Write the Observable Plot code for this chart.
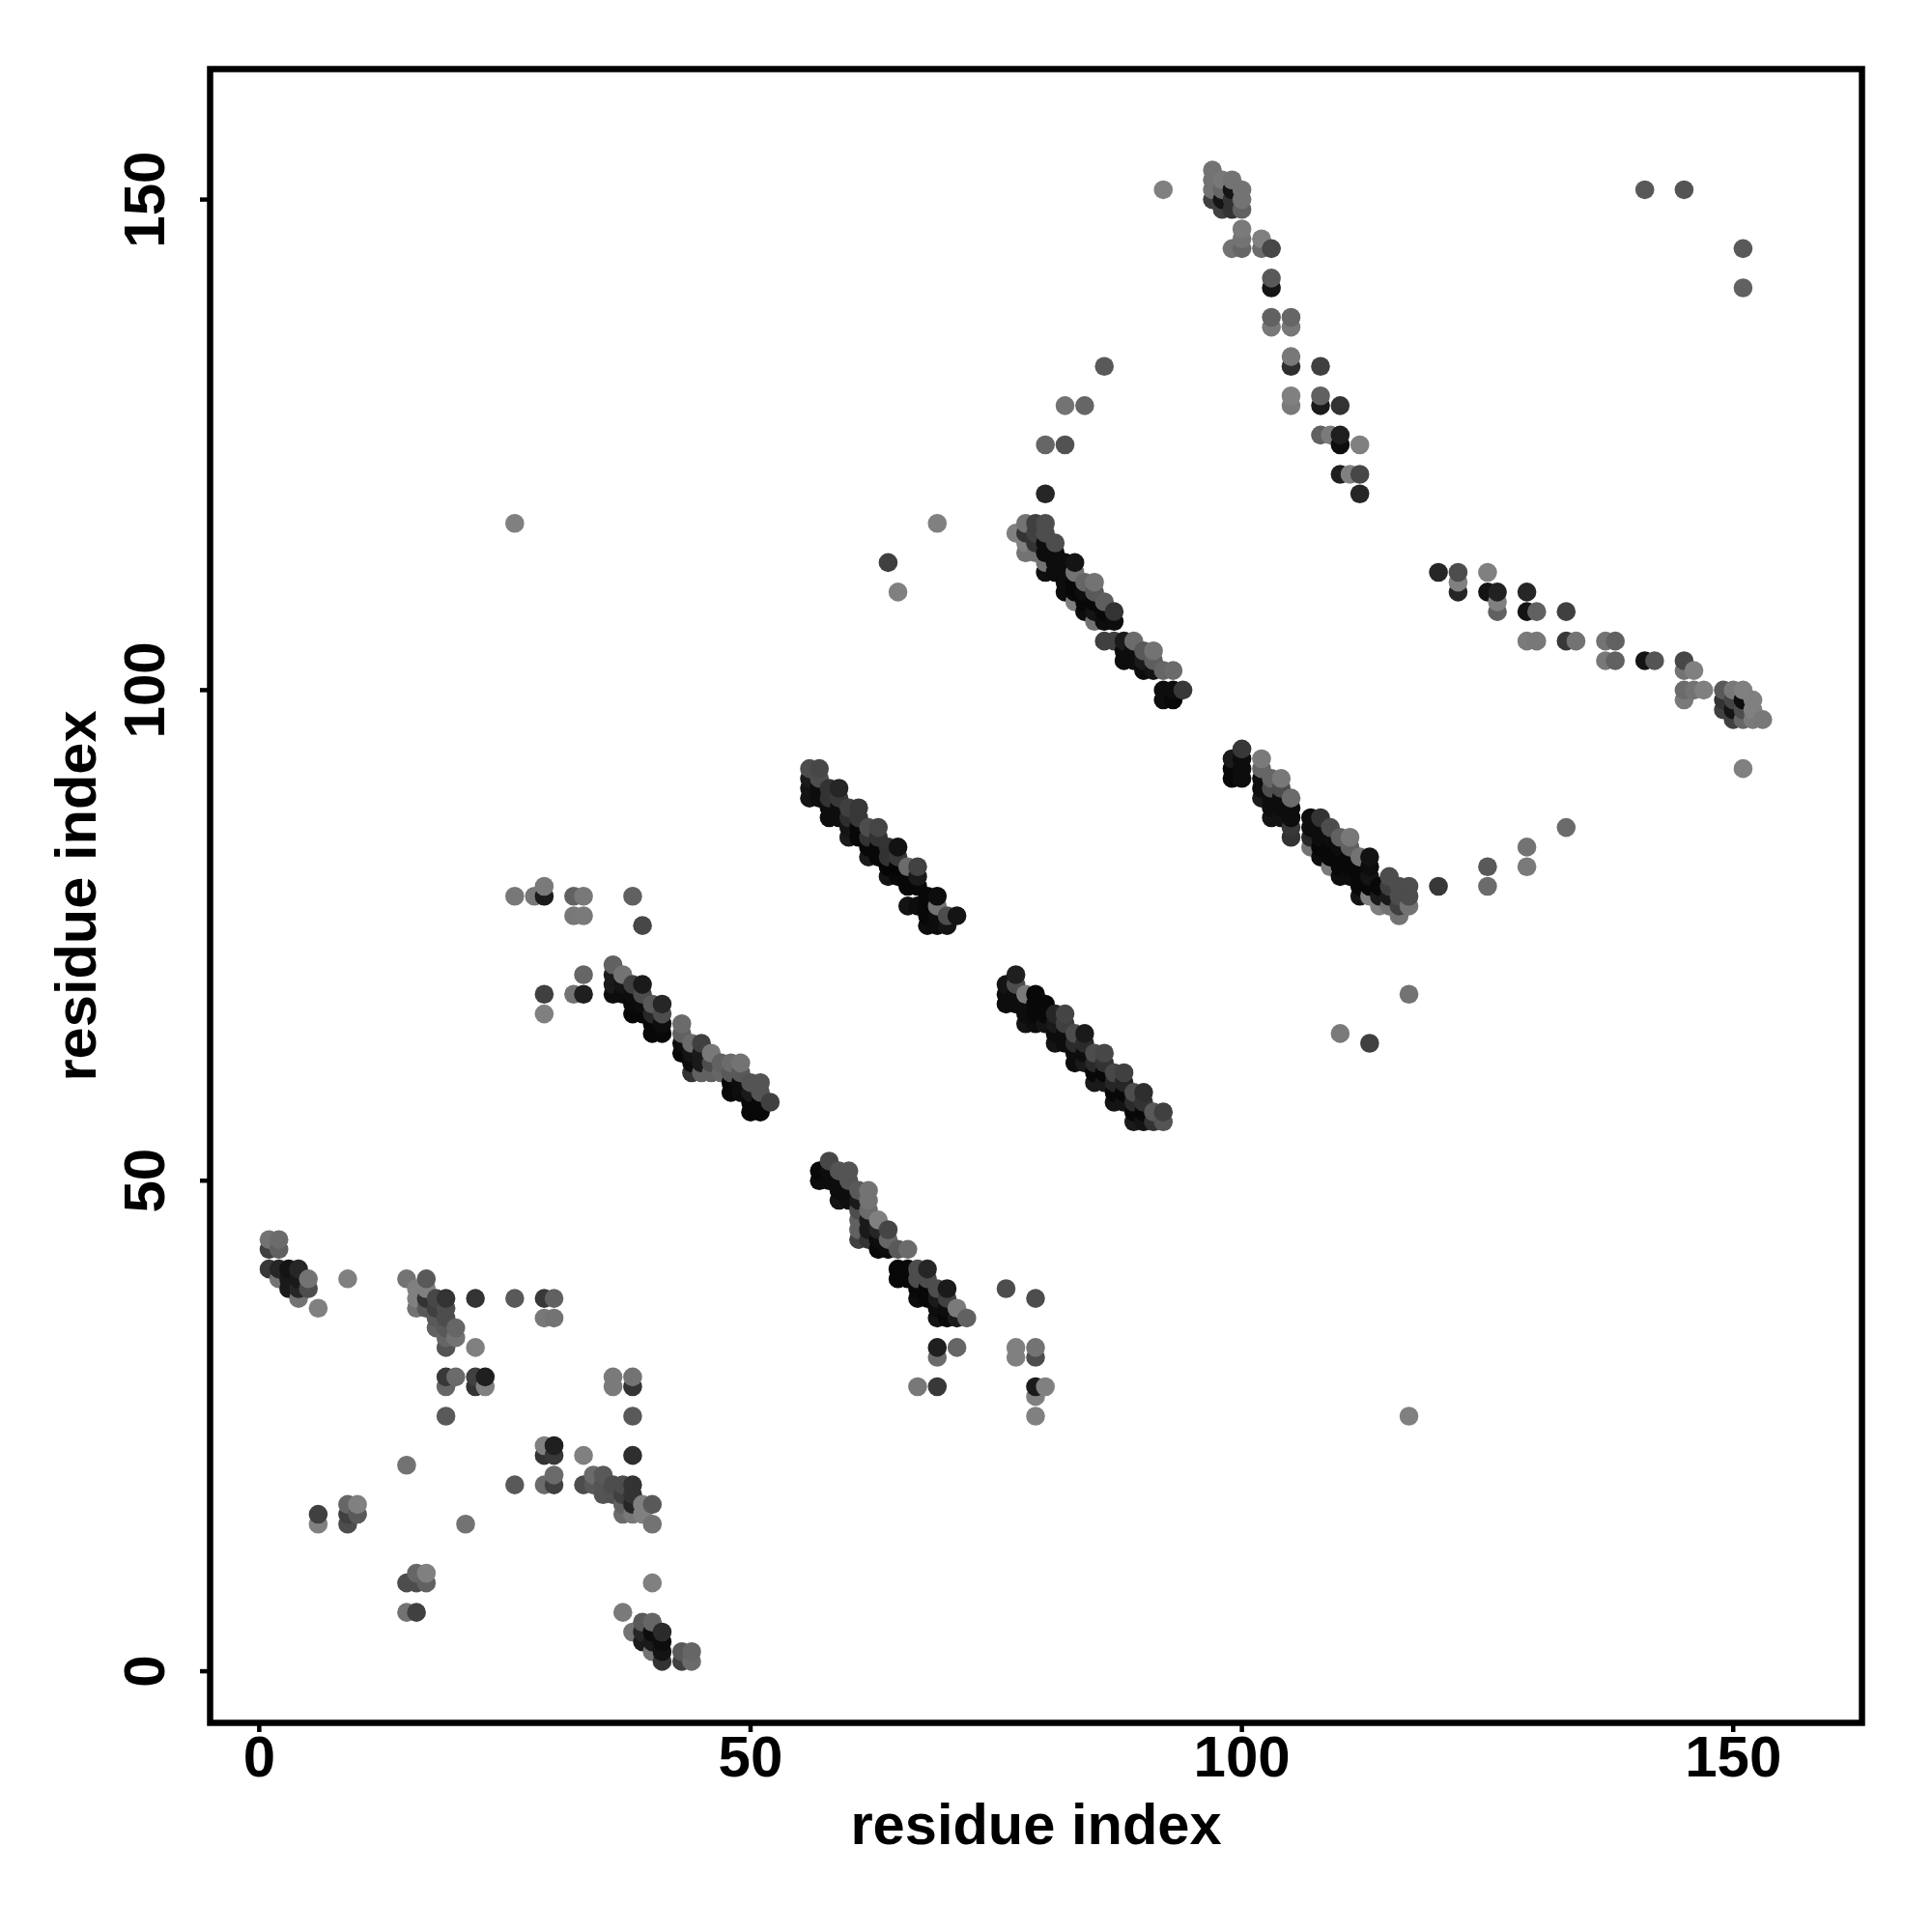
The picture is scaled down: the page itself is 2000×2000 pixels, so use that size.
<!DOCTYPE html>
<html>
<head>
<meta charset="utf-8">
<script src="https://cdn.jsdelivr.net/npm/d3@7"></script>
<script src="https://cdn.jsdelivr.net/npm/@observablehq/plot@0.6"></script>
<style>html,body{margin:0;padding:0;background:#fff}svg{display:block}</style>
</head>
<body>
<div id="chart"></div>
<script>
// Each triple: residue i, residue j, grey level
const clusterLowLeft = [[1,44,.45],[2,44,.42],[1,43,.25],[2,43,.38],[1,41,.22],[2,41,.15],[3,41,.08],[4,41,.15],[2,40,.45],[3,40,.1],[3,39,.1],[4,40,.1],[4,39,.15],[5,40,.45],[5,39,.3],[4,38,.45],[6,37,.5],[9,40,.5]];
const clusterMid = [[15,40,.45],[16,39,.5],[17,40,.35],[17,39,.5],[16,38,.5],[16,37,.45],[17,38,.2],[17,37,.35],[18,38,.28],[18,37,.25],[19,38,.2],[19,37,.3],[18,36,.35],[19,36,.3],[18,35,.38],[19,35,.35],[20,35,.4],[20,34,.45],[19,34,.4],[19,33,.33],[22,33,.5],[22,38,.2],[26,38,.35],[29,38,.22],[30,38,.38],[29,36,.47],[30,36,.45],[19,30,.22],[20,30,.42],[19,29,.4],[22,30,.25],[23,30,.12],[22,29,.2],[23,29,.5],[19,26,.35],[38,30,.45],[38,29,.2],[36,30,.48],[36,29,.48],[38,26,.35]];
const clusterLow = [[29,23,.5],[30,23,.12],[29,22,.2],[30,22,.22],[33,22,.5],[38,22,.18],[15,21,.45],[26,19,.35],[29,19,.42],[30,20,.42],[30,19,.25],[33,19,.3],[34,20,.42],[35,20,.35],[34,19,.35],[35,19,.33],[35,18,.33],[36,19,.3],[36,18,.32],[37,19,.3],[38,19,.2],[37,18,.25],[38,18,.2],[37,17,.38],[38,17,.15],[37,16,.42],[38,16,.47],[39,16,.5],[39,17,.5],[40,17,.35],[40,15,.45],[6,16,.25],[6,15,.5],[9,17,.4],[9,16,.25],[9,15,.3],[10,17,.5],[10,16,.35],[21,15,.45],[15,9,.3],[16,10,.4],[16,9,.3],[17,10,.5],[17,9,.38],[15,6,.45],[16,6,.25],[40,9,.5],[37,6,.48],[38,4,.45],[39,5,.35],[39,4,.15],[39,3,.1],[40,5,.4],[40,4,.05],[40,3,.1],[40,2,.45],[41,4,.17],[41,3,.05],[41,2,.08],[41,1,.2],[43,2,.35],[43,1,.25],[44,2,.4],[44,1,.42]];
const clusterUpperLeft = [[26,79,.47],[28,79,.47],[29,80,.48],[29,79,.1],[32,79,.38],[33,79,.47],[32,77,.47],[33,77,.48],[38,79,.38],[39,76,.28],[33,71,.4],[32,69,.45],[33,69,.12],[29,69,.25],[29,67,.5]];
const strandA = [[36,72,.38],[36,71,.1],[36,70,.1],[36,69,.05],[37,71,.45],[37,70,.08],[37,69,.05],[38,70,.25],[38,69,.05],[38,68,.04],[38,67,.03],[39,70,.1],[39,69,.3],[39,68,.05],[39,67,.03],[40,68,.35],[40,67,.15],[40,66,.03],[40,65,.03],[41,68,.15],[41,67,.3],[41,66,.05],[41,65,.03],[43,66,.42],[43,65,.38],[43,64,.05],[43,63,.03],[44,64,.42],[44,63,.08],[44,62,.05],[44,61,.2],[45,64,.25],[45,63,.1],[45,62,.1],[45,61,.38],[46,63,.47],[46,62,.3],[46,61,.38],[47,62,.38],[47,61,.4],[48,62,.42],[48,61,.35],[48,60,.03],[48,59,.03],[49,62,.45],[49,61,.35],[49,60,.05],[49,59,.05],[50,60,.33],[50,59,.1],[50,58,.03],[50,57,.03],[51,60,.33],[51,59,.33],[51,58,.03],[51,57,.03],[52,58,.25]];
const strandB = [[56,92,.3],[56,91,.1],[56,90,.08],[56,89,.08],[57,92,.28],[57,91,.3],[57,90,.05],[57,89,.05],[58,90,.2],[58,89,.2],[58,88,.05],[58,87,.05],[59,90,.15],[59,89,.22],[59,88,.05],[59,87,.05],[60,88,.25],[60,87,.18],[60,86,.08],[60,85,.1],[61,88,.22],[61,87,.22],[61,86,.03],[61,85,.03],[62,86,.3],[62,85,.2],[62,84,.03],[62,83,.1],[63,86,.27],[63,85,.2],[63,84,.03],[63,83,.03],[64,84,.2],[64,83,.2],[64,82,.02],[64,81,.08],[65,84,.07],[65,83,.22],[65,82,.02],[65,81,.03],[66,82,.42],[66,81,.03],[66,80,.03],[66,78,.08],[67,82,.26],[67,81,.1],[67,80,.03],[67,78,.05],[68,79,.03],[68,78,.03],[68,77,.03],[68,76,.05],[69,79,.05],[69,78,.45],[69,77,.05],[69,76,.05],[70,77,.3],[70,76,.08],[71,77,.08]];
const strandC = [[57,51,.03],[57,50,.05],[58,52,.28],[58,51,.05],[58,50,.05],[59,51,.33],[59,50,.05],[59,49,.05],[59,48,.08],[60,51,.33],[60,50,.33],[60,49,.05],[60,48,.06],[61,49,.35],[61,48,.1],[61,47,.3],[61,46,.38],[61,45,.38],[61,44,.25],[62,49,.45],[62,48,.45],[62,47,.42],[62,46,.1],[62,45,.1],[62,44,.2],[63,46,.5],[63,45,.15],[63,44,.05],[63,43,.03],[64,45,.27],[64,44,.4],[64,43,.05],[65,43,.35],[66,43,.42],[65,41,.03],[65,40,.03],[66,41,.03],[66,40,.03],[67,41,.3],[67,40,.3],[67,39,.03],[67,38,.05],[68,41,.15],[68,40,.3],[68,39,.03],[68,38,.03],[69,39,.3],[69,38,.1],[69,37,.05],[69,36,.08],[70,39,.1],[70,38,.25],[70,37,.05],[70,36,.03],[71,37,.48],[71,36,.1],[72,36,.38]];
const clusterBelowC = [[69,33,.12],[69,32,.42],[71,33,.4],[67,29,.47],[69,29,.22],[76,39,.3],[79,38,.3],[77,33,.5],[77,32,.5],[79,33,.45],[79,32,.3],[79,29,.1],[79,28,.5],[80,29,.5],[79,26,.5],[117,26,.5]];
const strandD = [[76,70,.08],[76,69,.05],[76,68,.05],[77,71,.12],[77,70,.3],[77,69,.05],[77,68,.05],[78,69,.48],[78,68,.05],[78,67,.05],[78,66,.08],[79,69,.03],[79,68,.03],[79,67,.03],[79,66,.05],[80,68,.03],[80,67,.03],[80,66,.08],[81,67,.15],[81,66,.1],[81,65,.05],[81,64,.08],[82,67,.27],[82,66,.25],[82,65,.05],[82,64,.05],[83,65,.3],[83,64,.17],[83,63,.05],[83,62,.05],[84,65,.1],[84,64,.17],[84,63,.05],[84,62,.1],[85,63,.3],[85,62,.17],[85,61,.03],[85,60,.1],[86,63,.28],[86,62,.2],[86,61,.03],[86,60,.1],[87,61,.28],[87,60,.15],[87,59,.03],[87,58,.08],[88,61,.25],[88,60,.15],[88,59,.03],[88,58,.08],[89,59,.3],[89,58,.17],[89,57,.03],[89,56,.1],[90,59,.18],[90,58,.2],[90,57,.03],[90,56,.08],[91,57,.35],[91,56,.2],[92,57,.25],[92,56,.33]];
const strandE = [[77,116,.5],[78,117,.45],[78,116,.2],[78,115,.5],[78,114,.45],[79,117,.25],[79,116,.25],[79,115,.2],[79,114,.45],[80,117,.3],[80,116,.3],[80,115,.05],[80,114,.05],[80,113,.45],[80,112,.06],[81,115,.3],[81,114,.05],[81,113,.05],[81,112,.05],[82,113,.05],[82,112,.05],[82,111,.05],[82,110,.05],[83,113,.08],[83,112,.45],[83,111,.03],[83,110,.03],[83,109,.5],[84,111,.4],[84,110,.05],[84,109,.03],[84,108,.05],[85,111,.45],[85,110,.35],[85,109,.03],[85,108,.08],[85,107,.45],[86,109,.37],[86,108,.03],[86,107,.05],[87,108,.2],[87,107,.05],[86,105,.25],[87,105,.25],[88,105,.1],[88,104,.05],[88,103,.05],[89,105,.42],[89,104,.05],[89,103,.05],[90,104,.35],[90,103,.1],[90,102,.05],[91,104,.45],[91,103,.37],[91,102,.08],[92,102,.4],[93,102,.42],[92,100,.05],[92,99,.05],[93,100,.05],[93,99,.03],[94,100,.22]];
const clusterArc = [[64,113,.25],[65,110,.5],[69,117,.5],[26,117,.5],[80,120,.15],[80,125,.4],[82,125,.32],[82,129,.45],[84,129,.4],[86,133,.35]];
const clusterTop = [[92,151,.5],[141,151,.35],[145,151,.33],[151,145,.35],[151,141,.38],[97,153,.45],[97,152,.45],[97,151,.45],[97,150,.25],[98,152,.47],[98,151,.4],[98,150,.08],[98,149,.25],[99,152,.45],[99,151,.08],[99,150,.2],[99,149,.2],[100,151,.45],[100,150,.45],[100,149,.38]];
const strandDescending = [[100,147,.48],[100,146,.45],[100,145,.4],[99,145,.45],[102,146,.5],[102,145,.42],[103,145,.28],[103,142,.35],[103,141,.08],[103,138,.38],[103,137,.47],[105,138,.4],[105,137,.47],[105,134,.47],[105,133,.18],[108,133,.25],[105,130,.5],[105,129,.48],[108,130,.38],[108,129,.1],[110,129,.2],[108,126,.38],[109,126,.48],[110,126,.12],[110,125,.05],[112,125,.5],[110,122,.12],[111,122,.5],[112,122,.28],[112,120,.15]];
const strandF = [[99,93,.1],[99,92,.03],[99,91,.03],[100,94,.22],[100,93,.05],[100,92,.05],[100,91,.05],[102,93,.48],[102,92,.4],[102,91,.05],[102,90,.05],[102,89,.1],[103,91,.4],[103,90,.3],[103,89,.05],[103,88,.05],[103,87,.08],[104,91,.47],[104,90,.3],[104,89,.05],[104,88,.05],[104,87,.07],[105,89,.42],[105,88,.05],[105,87,.05],[105,86,.22],[105,85,.2],[107,87,.05],[107,86,.05],[107,85,.15],[107,84,.45],[108,87,.2],[108,86,.05],[108,85,.05],[108,84,.03],[108,83,.05],[109,86,.3],[109,85,.05],[109,84,.03],[109,83,.03],[109,82,.48],[110,85,.38],[110,84,.05],[110,83,.03],[110,82,.03],[110,81,.05],[111,85,.47],[111,84,.38],[111,83,.03],[111,82,.03],[111,81,.05],[112,83,.45],[112,82,.03],[112,81,.03],[112,80,.03],[112,79,.08],[113,83,.07],[113,82,.05],[113,81,.08],[113,80,.03],[113,79,.5],[114,80,.03],[114,79,.1],[114,78,.5],[115,81,.3],[115,80,.25],[115,79,.1],[115,78,.45],[116,80,.3],[116,79,.3],[116,78,.25],[116,77,.45],[117,80,.3],[117,79,.3],[117,78,.45]];
const clusterRightMid = [[120,80,.22],[125,82,.35],[125,80,.42],[129,84,.45],[129,82,.48],[133,86,.42],[110,65,.48],[113,64,.25],[117,69,.45]];
const strandG = [[120,112,.15],[122,112,.3],[122,111,.5],[122,110,.15],[125,112,.5],[125,110,.08],[126,110,.13],[126,109,.5],[126,108,.38],[129,110,.15],[129,108,.08],[130,108,.38],[133,108,.25],[129,105,.48],[130,105,.47],[133,105,.22],[134,105,.45],[137,105,.45],[138,105,.38],[137,103,.47],[138,103,.38],[141,103,.08],[142,103,.33],[145,103,.28],[145,102,.45],[146,102,.5],[145,100,.42],[145,99,.48],[146,100,.45],[147,100,.5],[149,100,.35],[150,100,.47],[151,100,.5],[149,99,.2],[149,98,.25],[150,99,.27],[150,98,.08],[150,97,.25],[151,99,.05],[151,98,.3],[151,97,.4],[152,99,.5],[152,98,.5],[152,97,.48],[153,97,.47],[151,92,.5]];

const xTicks = [0, 50, 100, 150];
const yTicks = [0, 50, 100, 150];
const axisTitle = "residue index";

const contacts = d3.sort(
  [clusterLowLeft, clusterMid, clusterLow, clusterUpperLeft, strandA, strandB, strandC, clusterBelowC,
   strandD, strandE, clusterArc, clusterTop, strandDescending, strandF, clusterRightMid, strandG]
    .flat().map(([i, j, g]) => ({i, j, g})),
  d => d.i, d => d.j
);

const fontSize = 60;

const chart = Plot.plot({
  width: 2000, height: 2000,
  marginLeft: 217, marginRight: 73, marginTop: 71, marginBottom: 217,
  style: {background: "#fff", color: "#000", fontFamily: "Liberation Sans", fontWeight: "bold", fontSize: fontSize + "px"},
  x: {domain: [-5.0, 163.1]},
  y: {domain: [-5.26, 163.3]},
  color: {type: "linear", domain: [0, 1], range: ["#000", "#fff"]},
  marks: [
    Plot.dot(contacts, {x: "i", y: "j", fill: "g", r: 9.8}),
    Plot.frame({stroke: "#000", strokeWidth: 6.5}),
    Plot.axisX({ticks: xTicks, tickSize: 10, strokeWidth: 4.5, tickPadding: 3, fontSize, label: null}),
    Plot.axisY({ticks: yTicks, tickSize: 10, strokeWidth: 4.5, tickRotate: -90, tickPadding: 38, fontSize, label: null, textAnchor: "middle"}),
    Plot.text([axisTitle], {frameAnchor: "bottom", dy: 125, fontSize: 59.6, fontWeight: "bold", lineAnchor: "bottom"}),
    Plot.text([axisTitle], {frameAnchor: "left", dx: -119, rotate: -90, fontSize: 59.6, fontWeight: "bold", lineAnchor: "bottom", textAnchor: "middle"})
  ]
});
document.getElementById("chart").append(chart);
</script>
</body>
</html>
